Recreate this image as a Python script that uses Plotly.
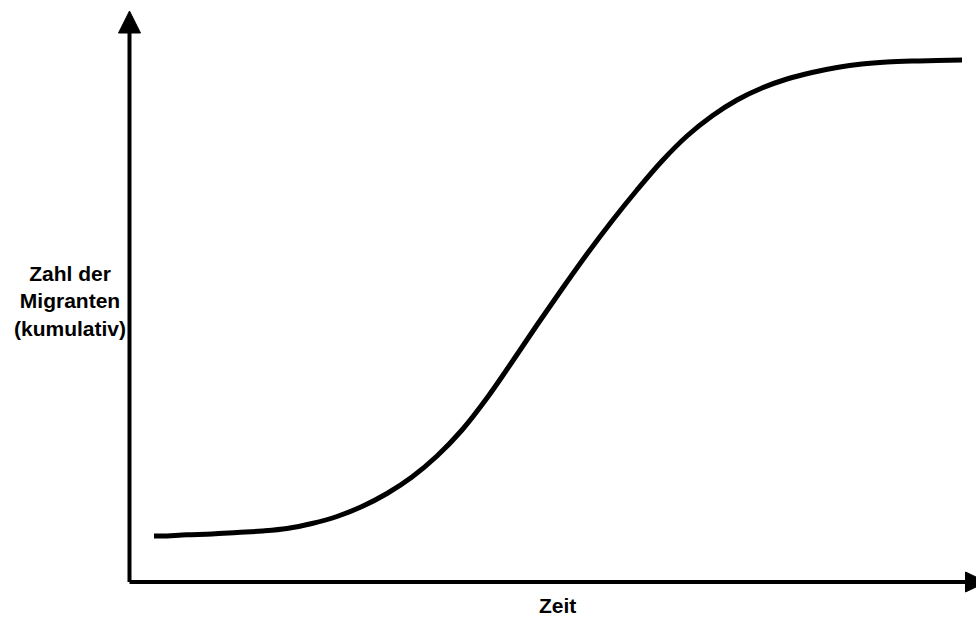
import plotly.graph_objects as go

# Cumulative number of migrants over time (arbitrary units)
zeit = [24.5, 32.5, 57.5, 82.5, 107.5, 132.5, 157.5, 182.5, 207.5, 232.5,
        257.5, 282.5, 307.5, 332.5, 357.5, 382.5, 407.5, 432.5, 457.5, 482.5,
        507.5, 532.5, 557.5, 582.5, 607.5, 632.5, 657.5, 682.5, 707.5, 732.5,
        757.5, 782.5, 807.5, 832.5]
migranten = [46, 46, 47.2, 48, 49.5, 51, 53.5, 58.5, 65.5, 75.5,
             88.5, 105, 126, 152, 184, 220, 257, 293, 328, 361,
             392, 421, 446, 466, 482, 494, 503, 509.5, 514.5, 518,
             520, 521, 521.5, 522]

x_title = "Zeit"
y_title = "Zahl der<br>Migranten<br>(kumulativ)"

FONT = "Liberation Sans, Arial, sans-serif"

fig = go.Figure()
fig.add_trace(go.Scatter(
    x=zeit, y=migranten, mode="lines",
    line=dict(color="black", width=5, shape="spline", smoothing=1.0),
    hoverinfo="skip", showlegend=False,
))

# axes with arrowheads
shapes = [
    dict(type="line", xref="x", yref="y", x0=0, y0=0, x1=840, y1=0,
         line=dict(color="black", width=4)),
    dict(type="line", xref="x", yref="y", x0=0, y0=0, x1=0, y1=555,
         line=dict(color="black", width=4)),
    dict(type="path", xref="x", yref="y",
         path="M 836 10 L 857 0 L 836 -10 Z",
         fillcolor="black", line=dict(color="black", width=1)),
    dict(type="path", xref="x", yref="y",
         path="M -11 549 L 0 571 L 11 549 Z",
         fillcolor="black", line=dict(color="black", width=1)),
]

annotations = [
    dict(x=-60, y=281, xref="x", yref="y", text="<b>" + y_title + "</b>",
         showarrow=False, align="center",
         font=dict(family=FONT, size=21, color="black")),
    dict(x=428, y=-23, xref="x", yref="y", text="<b>" + x_title + "</b>",
         showarrow=False, align="center",
         font=dict(family=FONT, size=21, color="black")),
]

fig.update_layout(
    width=976, height=621,
    margin=dict(l=0, r=0, t=0, b=0),
    paper_bgcolor="white", plot_bgcolor="white",
    xaxis=dict(range=[-129.5, 846.5], visible=False, fixedrange=True),
    yaxis=dict(range=[-39, 582], visible=False, fixedrange=True),
    shapes=shapes, annotations=annotations,
    showlegend=False,
)

fig.write_html(
    "out.html",
    config={"displayModeBar": False},
    post_script="document.body.style.margin='0';document.body.style.overflow='hidden';",
)
